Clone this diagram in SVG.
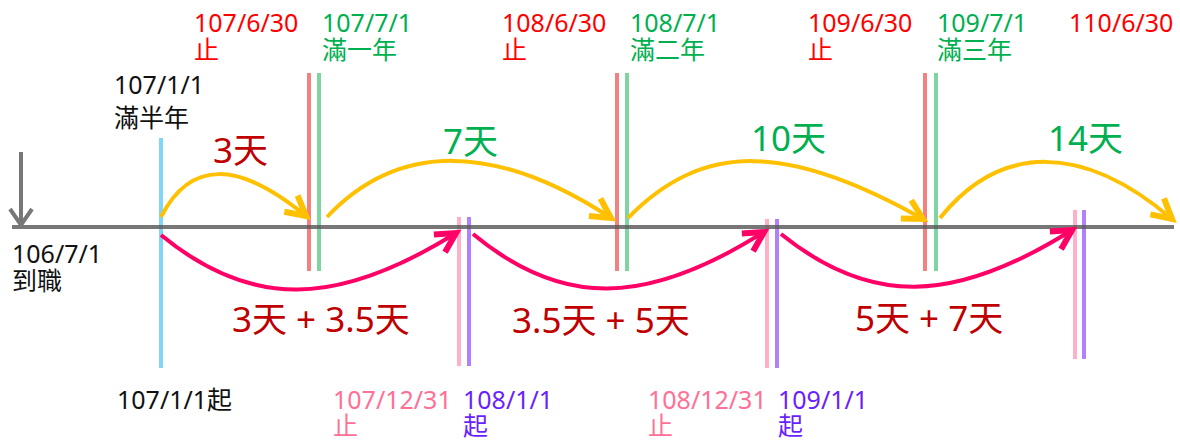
<svg xmlns="http://www.w3.org/2000/svg" width="1180" height="440" viewBox="0 0 1180 440">
<defs>
<style>
text{font-family:"Noto Sans","Noto Sans CJK TC",sans-serif;font-size:25px}
.big{font-size:35px}
.red{fill:#ff0000}.grn{fill:#00b050}.blk{fill:#111}.dred{fill:#c00000}.pnk{fill:#ff7096}.pur{fill:#6a1fff}
.vl{stroke-width:4;fill:none}
.orc{stroke:#ffc000;stroke-width:4;fill:none;marker-end:url(#ao)}
.pkc{stroke:#ff0066;stroke-width:4;fill:none;marker-end:url(#ap)}
</style>
<marker id="ao" markerUnits="userSpaceOnUse" orient="auto" markerWidth="30" markerHeight="30" refX="0" refY="0" viewBox="-16 -10 20 20"><path d="M-13,-7 L0,0 L-13,7" fill="none" stroke="#ffc000" stroke-width="4"/></marker>
<marker id="ap" markerUnits="userSpaceOnUse" orient="auto" markerWidth="30" markerHeight="30" refX="0" refY="0" viewBox="-16 -10 20 20"><path d="M-13,-7 L0,0 L-13,7" fill="none" stroke="#ff0066" stroke-width="4"/></marker>
</defs>

<g id="vlines">
<line class="vl" x1="161" y1="138" x2="161" y2="368" stroke="#7fd6f7"/>
<line class="vl" x1="309" y1="73" x2="309" y2="271" stroke="#f58080"/>
<line class="vl" x1="319" y1="73" x2="319" y2="271" stroke="#7fd4a0"/>
<line class="vl" x1="617" y1="73" x2="617" y2="271" stroke="#f58080"/>
<line class="vl" x1="627" y1="73" x2="627" y2="271" stroke="#7fd4a0"/>
<line class="vl" x1="925" y1="73" x2="925" y2="271" stroke="#f58080"/>
<line class="vl" x1="936" y1="73" x2="936" y2="271" stroke="#7fd4a0"/>
<line class="vl" x1="459" y1="217" x2="459" y2="366" stroke="#ffb0c8"/>
<line class="vl" x1="469" y1="217" x2="469" y2="366" stroke="#b080ff"/>
<line class="vl" x1="767" y1="219" x2="767" y2="368" stroke="#ffb0c8"/>
<line class="vl" x1="777" y1="219" x2="777" y2="368" stroke="#b080ff"/>
<line class="vl" x1="1075" y1="210" x2="1075" y2="359" stroke="#ffb0c8"/>
<line class="vl" x1="1084" y1="210" x2="1084" y2="359" stroke="#b080ff"/>
</g>

<g id="axis">
<line x1="12" y1="227" x2="1174" y2="227" stroke="#555" stroke-opacity="0.8" stroke-width="4"/>
<line x1="21" y1="152" x2="21" y2="224" stroke="#777" stroke-width="4"/>
<path d="M10,209 L21,225 L32,209" fill="none" stroke="#777" stroke-width="4"/>
</g>

<g id="connectors">
<path class="orc" d="M161,217 C190,160 238,160 306,216"/>
<path class="orc" d="M327,217 C398,142 495,142 611,218"/>
<path class="orc" d="M628,218 C702,142 787,142 923,219"/>
<path class="orc" d="M940,218 C1000,143 1083,143 1172,219"/>
<path class="pkc" d="M161,235 C250,308 336,308 456,233"/>
<path class="pkc" d="M473,234 C561,307 645,307 764,232"/>
<path class="pkc" d="M781,234 C869,305 953,305 1072,230"/>
</g>

<g id="top-labels">
<text class="red" x="194" y="32">107/6/30<tspan x="194" dy="27">止</tspan></text>
<text class="grn" x="322" y="32">107/7/1<tspan x="322" dy="27">滿一年</tspan></text>
<text class="red" x="502" y="32">108/6/30<tspan x="502" dy="27">止</tspan></text>
<text class="grn" x="630" y="32">108/7/1<tspan x="630" dy="27">滿二年</tspan></text>
<text class="red" x="808" y="32">109/6/30<tspan x="808" dy="27">止</tspan></text>
<text class="grn" x="937" y="32">109/7/1<tspan x="937" dy="27">滿三年</tspan></text>
<text class="red" x="1069" y="32">110/6/30</text>
</g>

<g id="left-labels">
<text class="blk" x="114" y="94">107/1/1<tspan x="114" dy="33">滿半年</tspan></text>
<text class="blk" x="12" y="263">106/7/1<tspan x="12" dy="27">到職</tspan></text>
</g>

<g id="day-labels">
<text class="big dred" x="213" y="163">3天</text>
<text class="big grn" x="443" y="154">7天</text>
<text class="big grn" x="751" y="151">10天</text>
<text class="big grn" x="1048" y="151">14天</text>
<text class="big dred" x="232" y="332">3天 + 3.5天</text>
<text class="big dred" x="512" y="333">3.5天 + 5天</text>
<text class="big dred" x="855" y="331">5天 + 7天</text>
</g>

<g id="bottom-labels">
<text class="blk" x="117" y="409">107/1/1起</text>
<text class="pnk" x="333" y="409">107/12/31<tspan x="333" dy="26">止</tspan></text>
<text class="pur" x="463" y="409">108/1/1<tspan x="463" dy="26">起</tspan></text>
<text class="pnk" x="648" y="409">108/12/31<tspan x="648" dy="26">止</tspan></text>
<text class="pur" x="778" y="409">109/1/1<tspan x="778" dy="26">起</tspan></text>
</g>
</svg>
